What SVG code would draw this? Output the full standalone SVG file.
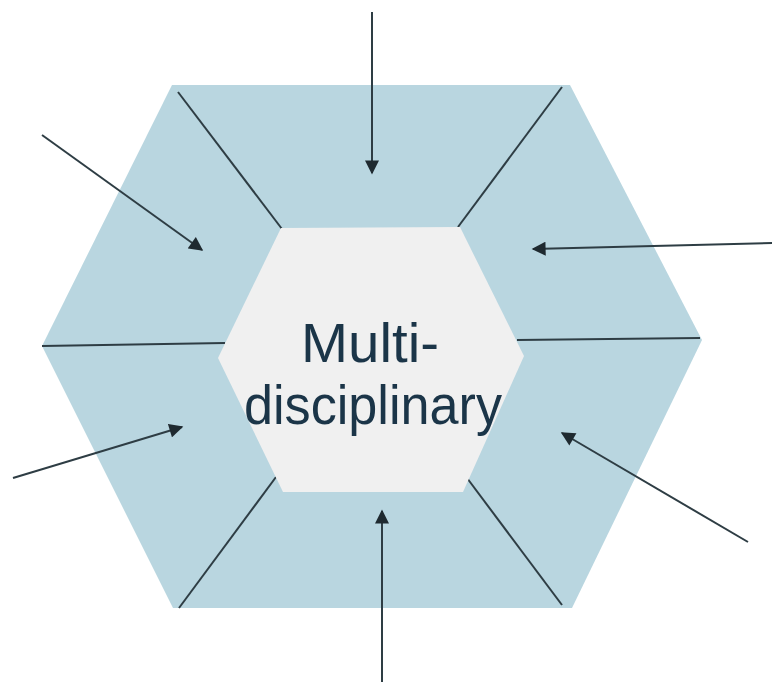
<svg xmlns="http://www.w3.org/2000/svg" width="774" height="685" viewBox="0 0 774 685">
<defs>
<style>
.div{stroke:#2e3d44;stroke-width:2;fill:none}
.arr{stroke:#2e3d44;stroke-width:2;fill:none;marker-end:url(#ah)}
.lbl{font-family:"Liberation Sans",Arial,sans-serif;font-size:56px;fill:#1b3548;text-anchor:middle}
</style>
<marker id="ah" viewBox="0 0 10 10" refX="9" refY="5" markerWidth="7.5" markerHeight="7" orient="auto" markerUnits="strokeWidth">
<path d="M0,0 L10,5 L0,10 z" fill="#1f2a30"/>
</marker>
</defs>
<rect width="774" height="685" fill="#ffffff"/>
<g id="outer-hexagon">
<polygon points="172,85 570,85 702,340 572,608 173,608 42,346" fill="#b9d6e0"/>
</g>
<g id="dividers">
<line class="div" x1="178" y1="92" x2="282" y2="229"/>
<line class="div" x1="562" y1="87" x2="458" y2="227"/>
<line class="div" x1="42" y1="346" x2="225" y2="343"/>
<line class="div" x1="517" y1="340" x2="700" y2="338"/>
<line class="div" x1="276" y1="477" x2="179" y2="608"/>
<line class="div" x1="467" y1="478" x2="562" y2="605"/>
</g>
<g id="center">
<polygon points="281,228 460,227 524,356 463,492 283,492 218,358" fill="#f0f0f0"/>
<text class="lbl" x="370" y="362" textLength="138" lengthAdjust="spacingAndGlyphs">Multi-</text>
<text class="lbl" x="373" y="424" textLength="258" lengthAdjust="spacingAndGlyphs">disciplinary</text>
</g>
<g id="connectors">
<line class="arr" x1="372" y1="12" x2="372" y2="173"/>
<line class="arr" x1="42" y1="135" x2="202" y2="250"/>
<line class="arr" x1="772" y1="243" x2="533" y2="249"/>
<line class="arr" x1="13" y1="478" x2="182" y2="427"/>
<line class="arr" x1="748" y1="542" x2="562" y2="433"/>
<line class="arr" x1="382" y1="682" x2="382" y2="511"/>
</g>
</svg>
